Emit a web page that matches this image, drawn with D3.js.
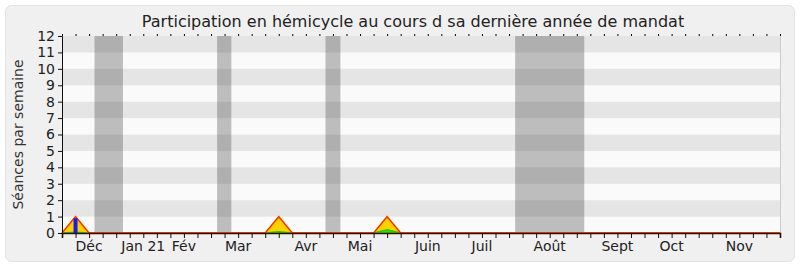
<!DOCTYPE html>
<html>
<head>
<meta charset="utf-8">
<script src="https://cdn.jsdelivr.net/npm/d3@7"></script>
<style>
  html, body { margin: 0; padding: 0; background: #ffffff; }
  svg { display: block; font-family: "DejaVu Sans", Verdana, sans-serif; }
</style>
</head>
<body>
<svg id="chart" width="800" height="267"></svg>
<script>
// Weekly session counts, week 0 .. week 53
const weekIndex = [0,1,2,3,4,5,6,7,8,9,10,11,12,13,14,15,16,17,18,19,20,21,22,23,24,25,26,
  27,28,29,30,31,32,33,34,35,36,37,38,39,40,41,42,43,44,45,46,47,48,49,50,51,52,53];
const hemicycle = [0,1,0,0,0,0,0,0,0,0,0,0,0,0,0,0,1,0,0,0,0,0,0,0,1,0,0,
  0,0,0,0,0,0,0,0,0,0,0,0,0,0,0,0,0,0,0,0,0,0,0,0,0,0,0];
const interventions = [0,0.05,0,0,0,0,0,0,0,0,0,0,0,0,0,0,0.08,0,0,0,0,0,0,0,0.2,0,0,
  0,0,0,0,0,0,0,0,0,0,0,0,0,0,0,0,0,0,0,0,0,0,0,0,0,0,0];
const questions = [0,0.9,0,0,0,0,0,0,0,0,0,0,0,0,0,0,0,0,0,0,0,0,0,0,0,0,0,
  0,0,0,0,0,0,0,0,0,0,0,0,0,0,0,0,0,0,0,0,0,0,0,0,0,0,0];

// Parliamentary recess periods (in weeks)
const recessStart = [2.4, 11.45, 19.45, 33.45];
const recessEnd   = [4.5, 12.5, 20.55, 38.55];

// Month labels and the week they sit under
const monthLabels = ["Déc","Jan 21","Fév","Mar","Avr","Mai","Juin","Juil","Août","Sept","Oct","Nov"];
const monthWeeks  = [2, 6, 9, 13, 18, 22, 27, 31, 36, 41, 45, 50];

const yTicks = [0,1,2,3,4,5,6,7,8,9,10,11,12];

const svg = d3.select("#chart");
const plotL = 62, plotR = 780, plotT = 36, plotB = 233;

const x = d3.scaleLinear().domain([0, 53]).range([plotL, plotR]);
const y = d3.scaleLinear().domain([0, 12]).range([plotB, plotT]);

// outer panel
svg.append("rect")
  .attr("x", 5.5).attr("y", 5.5).attr("width", 789).attr("height", 256)
  .attr("rx", 6).attr("ry", 6)
  .attr("fill", "#f0f0f0").attr("stroke", "#e2e2e2");

// title
svg.append("text")
  .attr("x", 413).attr("y", 27)
  .attr("text-anchor", "middle")
  .attr("font-size", 16)
  .attr("fill", "#222")
  .text("Participation en hémicycle au cours d sa dernière année de mandat");

// y axis title
svg.append("text")
  .attr("transform", `translate(23,${(plotT + plotB) / 2}) rotate(-90)`)
  .attr("text-anchor", "middle")
  .attr("font-size", 14)
  .attr("fill", "#333")
  .text("Séances par semaine");

// horizontal stripes
const stripes = d3.range(12);
svg.append("g").selectAll("rect").data(stripes).join("rect")
  .attr("x", plotL).attr("width", plotR - plotL)
  .attr("y", d => y(d + 1)).attr("height", d => y(d) - y(d + 1))
  .attr("fill", d => d % 2 === 1 ? "#e5e5e5" : "#fafafa");

// recess shading
svg.append("g").selectAll("rect").data(recessStart).join("rect")
  .attr("x", (d) => x(d))
  .attr("width", (d, i) => x(recessEnd[i]) - x(d))
  .attr("y", plotT).attr("height", plotB - plotT)
  .attr("fill", "#323232").attr("fill-opacity", 0.3);

// right border of plot
svg.append("line")
  .attr("x1", plotR + 0.5).attr("x2", plotR + 0.5)
  .attr("y1", plotT).attr("y2", plotB)
  .attr("stroke", "#cccccc");

// area and line generators over the weekly index
const area = (vals) => d3.area()
  .x((d, i) => x(weekIndex[i]))
  .y0(y(0)).y1((d) => y(d))(vals);
const line = (vals) => d3.line()
  .x((d, i) => x(weekIndex[i]))
  .y((d) => y(d))(vals);

// hemicycle presence (fill)
svg.append("path").attr("d", area(hemicycle)).attr("fill", "#ffd000");

// interventions
svg.append("path").attr("d", area(interventions)).attr("fill", "#33dd00");
svg.append("path").attr("d", line(interventions))
  .attr("fill", "none").attr("stroke", "#22cc00").attr("stroke-width", 1.5);

// hemicycle presence (outline)
svg.append("path").attr("d", line(hemicycle))
  .attr("fill", "none").attr("stroke", "#ff7a00").attr("stroke-width", 1.8);
svg.append("path").attr("d", line(hemicycle))
  .attr("fill", "none").attr("stroke", "#e81e00").attr("stroke-width", 1);

// questions bars
svg.append("g").selectAll("rect").data(questions).join("rect")
  .attr("x", (d, i) => x(weekIndex[i]) - 2)
  .attr("width", 4)
  .attr("y", d => y(d))
  .attr("height", d => y(0) - y(d))
  .attr("fill", "#1a1aee");

// y axis
const yAxis = svg.append("g")
  .attr("transform", `translate(${plotL},0)`)
  .call(d3.axisLeft(y).tickValues(yTicks).tickSize(4).tickPadding(3).tickFormat(d3.format("d")));
yAxis.selectAll("text").attr("font-size", 14).attr("fill", "#222").attr("font-family", "DejaVu Sans");
yAxis.selectAll("line, path").attr("stroke", "#111");

// bottom axis (weekly ticks)
const xAxis = svg.append("g")
  .attr("transform", `translate(0,${plotB})`)
  .call(d3.axisBottom(x).tickValues(weekIndex).tickSize(5).tickFormat(""));
xAxis.selectAll("line").attr("stroke", "#111");
xAxis.select("path").attr("stroke", "#3a0c00").attr("stroke-width", 1.6);

// top axis dots
svg.append("g")
  .attr("transform", `translate(0,${plotT})`)
  .call(d3.axisTop(x).tickValues(weekIndex).tickSize(2).tickFormat(""))
  .call(g => g.select("path").remove())
  .selectAll("line").attr("stroke", "#000");

// month labels
svg.append("g").selectAll("text").data(monthLabels).join("text")
  .attr("x", (d, i) => x(monthWeeks[i]))
  .attr("y", 251)
  .attr("text-anchor", "middle")
  .attr("font-size", 14)
  .attr("fill", "#222")
  .text(d => d);
</script>
</body>
</html>
